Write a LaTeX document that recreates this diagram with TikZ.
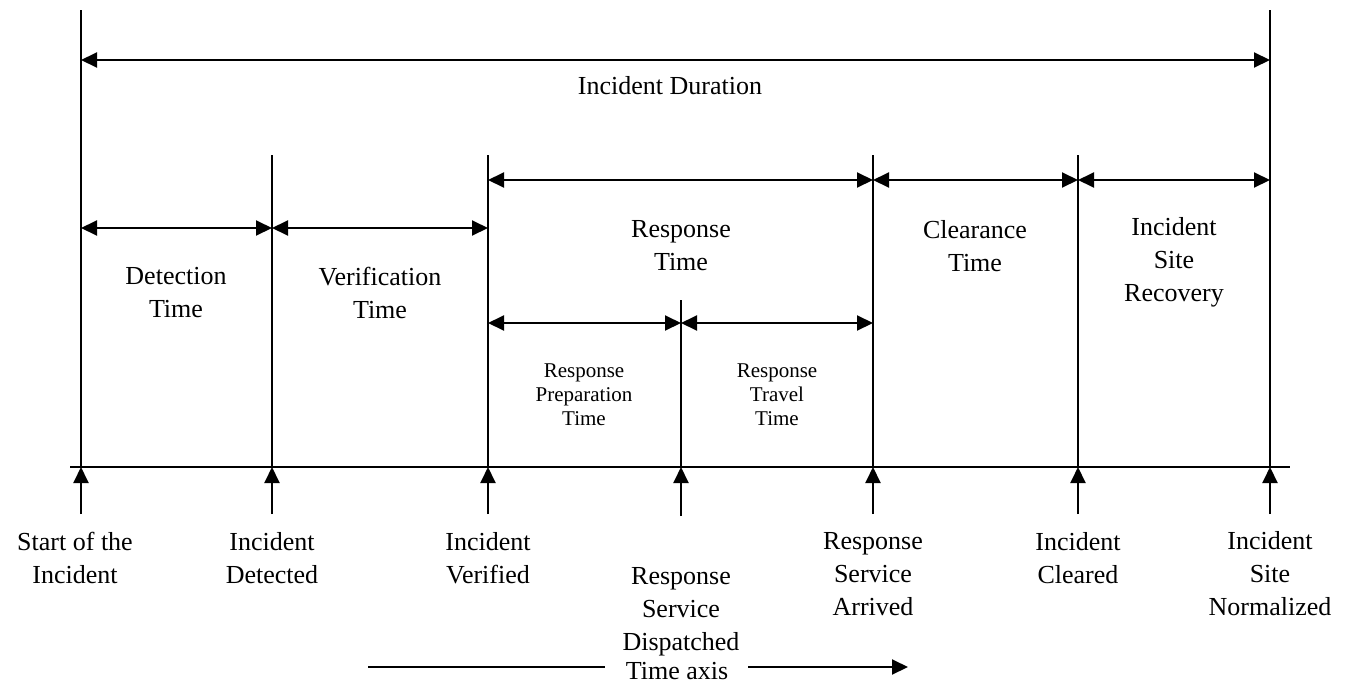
\documentclass[tikz,border=0pt]{standalone}
\usepackage{fontspec}
\setmainfont{Liberation Serif}
\usetikzlibrary{arrows.meta}
\begin{document}
\begin{tikzpicture}[x=1pt,y=-1pt,
  line/.style={line width=2pt},
  tipd/.tip={Triangle[length=16pt,width=15pt]},
  dim/.style={line width=2pt,tipd-tipd},
  uparrow/.style={line width=2pt,-tipd},
  big/.style={font=\fontsize{26}{33}\selectfont,align=center,inner sep=0pt},
  small/.style={font=\fontsize{21}{24}\selectfont,align=center,inner sep=0pt}]
\useasboundingbox (0,0) rectangle (1347,683);
% vertical boundary lines
\coordinate (t0) at (81,10);   \coordinate (b0) at (81,467);
\coordinate (t1) at (272,155); \coordinate (b1) at (272,467);
\coordinate (t2) at (488,155); \coordinate (b2) at (488,467);
\coordinate (t3) at (681,300); \coordinate (b3) at (681,467);
\coordinate (t4) at (873,155); \coordinate (b4) at (873,467);
\coordinate (t5) at (1078,155); \coordinate (b5) at (1078,467);
\coordinate (t6) at (1270,10); \coordinate (b6) at (1270,467);
\foreach \i in {0,...,6} \draw[line] (t\i) -- (b\i);
% time axis line
\coordinate (axL) at (70,467); \coordinate (axR) at (1290,467);
\draw[line] (axL) -- (axR);
% event arrows
\coordinate (u0) at (81,514);  \coordinate (u1) at (272,514);
\coordinate (u2) at (488,514); \coordinate (u3) at (681,516);
\coordinate (u4) at (873,514); \coordinate (u5) at (1078,514);
\coordinate (u6) at (1270,514);
\foreach \i in {0,...,6} \draw[uparrow] (u\i) -- (b\i);
% dimension arrows
\coordinate (d0a) at (81,60);   \coordinate (d0b) at (1270,60);
\draw[dim] (d0a) -- (d0b);
\coordinate (d1a) at (81,228);  \coordinate (d1b) at (272,228); \coordinate (d1c) at (488,228);
\draw[dim] (d1a) -- (d1b); \draw[dim] (d1b) -- (d1c);
\coordinate (d2a) at (488,180); \coordinate (d2b) at (873,180);
\coordinate (d2c) at (1078,180); \coordinate (d2d) at (1270,180);
\draw[dim] (d2a) -- (d2b); \draw[dim] (d2b) -- (d2c); \draw[dim] (d2c) -- (d2d);
\coordinate (d3a) at (488,323); \coordinate (d3b) at (681,323); \coordinate (d3c) at (873,323);
\draw[dim] (d3a) -- (d3b); \draw[dim] (d3b) -- (d3c);
% interval labels
\node[big] (dur) at (670,86) {Incident Duration};
\node[big] (det) at (176,293) {Detection\\Time};
\node[big] (ver) at (380,293) {Verification\\Time};
\node[big] (res) at (681,246) {Response\\Time};
\node[big] (clr) at (975,246) {Clearance\\Time};
\node[big] (rec) at (1174,262) {Incident\\Site\\Recovery};
\node[small] (prep) at (584,395) {Response\\Preparation\\Time};
\node[small] (trav) at (777,395) {Response\\Travel\\Time};
% event labels
\node[big] (e0) at (75,558) {Start of the\\Incident};
\node[big] (e1) at (272,558) {Incident\\Detected};
\node[big] (e2) at (488,558) {Incident\\Verified};
\node[big] (e3) at (681,612) {Response\\Service\\Dispatched};
\node[big] (e4) at (873,574) {Response\\Service\\Arrived};
\node[big] (e5) at (1078,558) {Incident\\Cleared};
\node[big] (e6) at (1270,574) {Incident\\Site\\Normalized};
% time axis indicator
\node[big] (tax) at (677,671) {Time axis};
\coordinate (ta1) at (368,667); \coordinate (ta2) at (605,667);
\coordinate (ta3) at (748,667); \coordinate (ta4) at (908,667);
\draw[line] (ta1) -- (ta2);
\draw[uparrow] (ta3) -- (ta4);
\end{tikzpicture}
\end{document}
